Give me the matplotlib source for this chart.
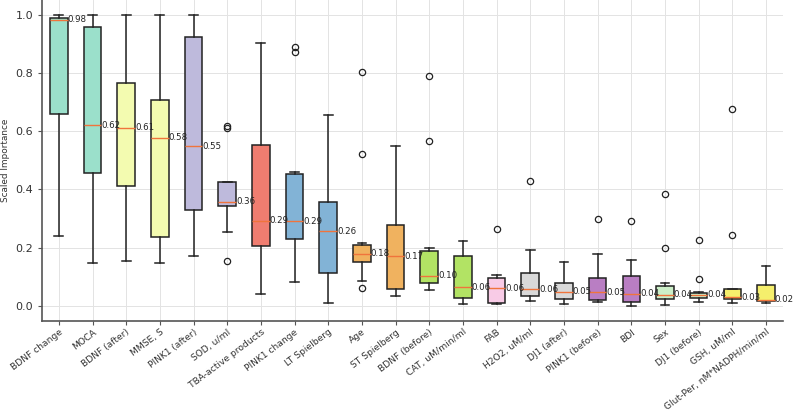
"""Box plot of scaled feature importance, sorted by median."""
import matplotlib

matplotlib.use("Agg")
import matplotlib.pyplot as plt

features = [
    "BDNF change", "MOCA", "BDNF (after)", "MMSE, S", "PINK1 (after)", "SOD, u/ml",
    "TBA-active products", "PINK1 change", "LT Spielberg", "Age", "ST Spielberg",
    "BDNF (before)", "CAT, uM/min/ml", "FAB", "H2O2, uM/ml", "DJ1 (after)",
    "PINK1 (before)", "BDI", "Sex", "DJ1 (before)", "GSH, uM/ml",
    "Glut-Per, nM*NADPH/min/ml",
]
whisker_low = [0.240, 0.147, 0.154, 0.146, 0.172, 0.254, 0.041, 0.082, 0.011, 0.086, 0.034,
               0.054, 0.006, 0.007, 0.016, 0.006, 0.013, 0.000, 0.005, 0.014, 0.010, 0.010]
q1 = [0.660, 0.457, 0.411, 0.236, 0.328, 0.343, 0.207, 0.229, 0.113, 0.152, 0.059,
      0.078, 0.026, 0.011, 0.034, 0.025, 0.021, 0.015, 0.023, 0.027, 0.023, 0.016]
medians = [0.982, 0.621, 0.611, 0.578, 0.549, 0.357, 0.293, 0.291, 0.257, 0.179, 0.171,
           0.103, 0.064, 0.061, 0.057, 0.049, 0.047, 0.042, 0.039, 0.038, 0.030, 0.021]
q3 = [0.988, 0.957, 0.766, 0.708, 0.923, 0.426, 0.554, 0.453, 0.358, 0.208, 0.277,
      0.188, 0.171, 0.095, 0.112, 0.078, 0.095, 0.102, 0.068, 0.046, 0.058, 0.071]
whisker_high = [1.000, 1.000, 1.000, 1.000, 1.000, 0.426, 0.903, 0.460, 0.654, 0.217, 0.550,
                0.198, 0.223, 0.105, 0.193, 0.151, 0.177, 0.158, 0.079, 0.047, 0.058, 0.136]
outliers = [
    [], [], [], [], [], [0.619, 0.610, 0.155], [], [0.890, 0.871], [],
    [0.804, 0.523, 0.063], [], [0.789, 0.565], [], [0.265], [0.428], [],
    [0.298], [0.291], [0.383, 0.199], [0.225, 0.094], [0.677, 0.244], [],
]
# one fill per pair of boxes (Set3-like tones)
pair_colors = ["#9be0cb", "#f3fbb0", "#bebadc", "#f07d70", "#82b3d6", "#f0b25f",
               "#b2e364", "#f8cbe6", "#d9d9d9", "#b97ec3", "#ccefc8", "#f5ef6c"]
color_idx = [0, 0, 1, 1, 2, 2, 3, 4, 4, 5, 5, 6, 6, 7, 8, 8, 9, 9, 10, 10, 11, 11]


def main() -> None:
    stats = []
    for i, name in enumerate(features):
        stats.append({
            "label": name,
            "whislo": whisker_low[i],
            "q1": q1[i],
            "med": medians[i],
            "q3": q3[i],
            "whishi": whisker_high[i],
            "fliers": outliers[i],
        })

    fig = plt.figure(figsize=(8, 4.15), dpi=100)
    ax = fig.add_axes([0.0525, 0.2275, 0.926, 0.7725])

    positions = list(range(1, len(features) + 1))
    bp = ax.bxp(
        stats,
        positions=positions,
        widths=0.52,
        patch_artist=True,
        boxprops=dict(edgecolor="#222222", linewidth=1.1),
        whiskerprops=dict(color="#222222", linewidth=1.1),
        capprops=dict(color="#222222", linewidth=1.1),
        medianprops=dict(color="#f0743c", linewidth=1.0),
        flierprops=dict(marker="o", markersize=4.5, markerfacecolor="none",
                        markeredgecolor="#222222", markeredgewidth=0.9),
    )
    for patch, ci in zip(bp["boxes"], color_idx):
        patch.set_facecolor(pair_colors[ci])

    for pos, med in zip(positions, medians):
        ax.text(pos + 0.26, med, f"{med:.2f}", ha="left", va="center",
                fontsize=6.2, color="#222222")

    ax.set_xlim(0.5, len(features) + 0.5)
    ax.set_ylim(-0.05, 1.05)
    ax.set_yticks([0.0, 0.2, 0.4, 0.6, 0.8, 1.0])
    ax.set_xticks(positions)
    ax.set_xticklabels(features, rotation=37, ha="right", rotation_mode="anchor",
                       fontsize=6.6, color="#333333")
    ax.tick_params(axis="x", pad=2)
    ax.tick_params(axis="y", labelsize=8, colors="#333333")
    ax.tick_params(axis="both", length=3, color="#555555")
    ax.set_ylabel("Scaled Importance", fontsize=6.4, color="#333333")

    ax.grid(True, color="#e3e3e3", linewidth=0.7)
    ax.set_axisbelow(True)
    for side in ["top", "right"]:
        ax.spines[side].set_visible(False)
    for side in ["left", "bottom"]:
        ax.spines[side].set_color("#555555")
        ax.spines[side].set_linewidth(1.2)

    fig.savefig("out.png", dpi=100)


if __name__ == "__main__":
    main()
